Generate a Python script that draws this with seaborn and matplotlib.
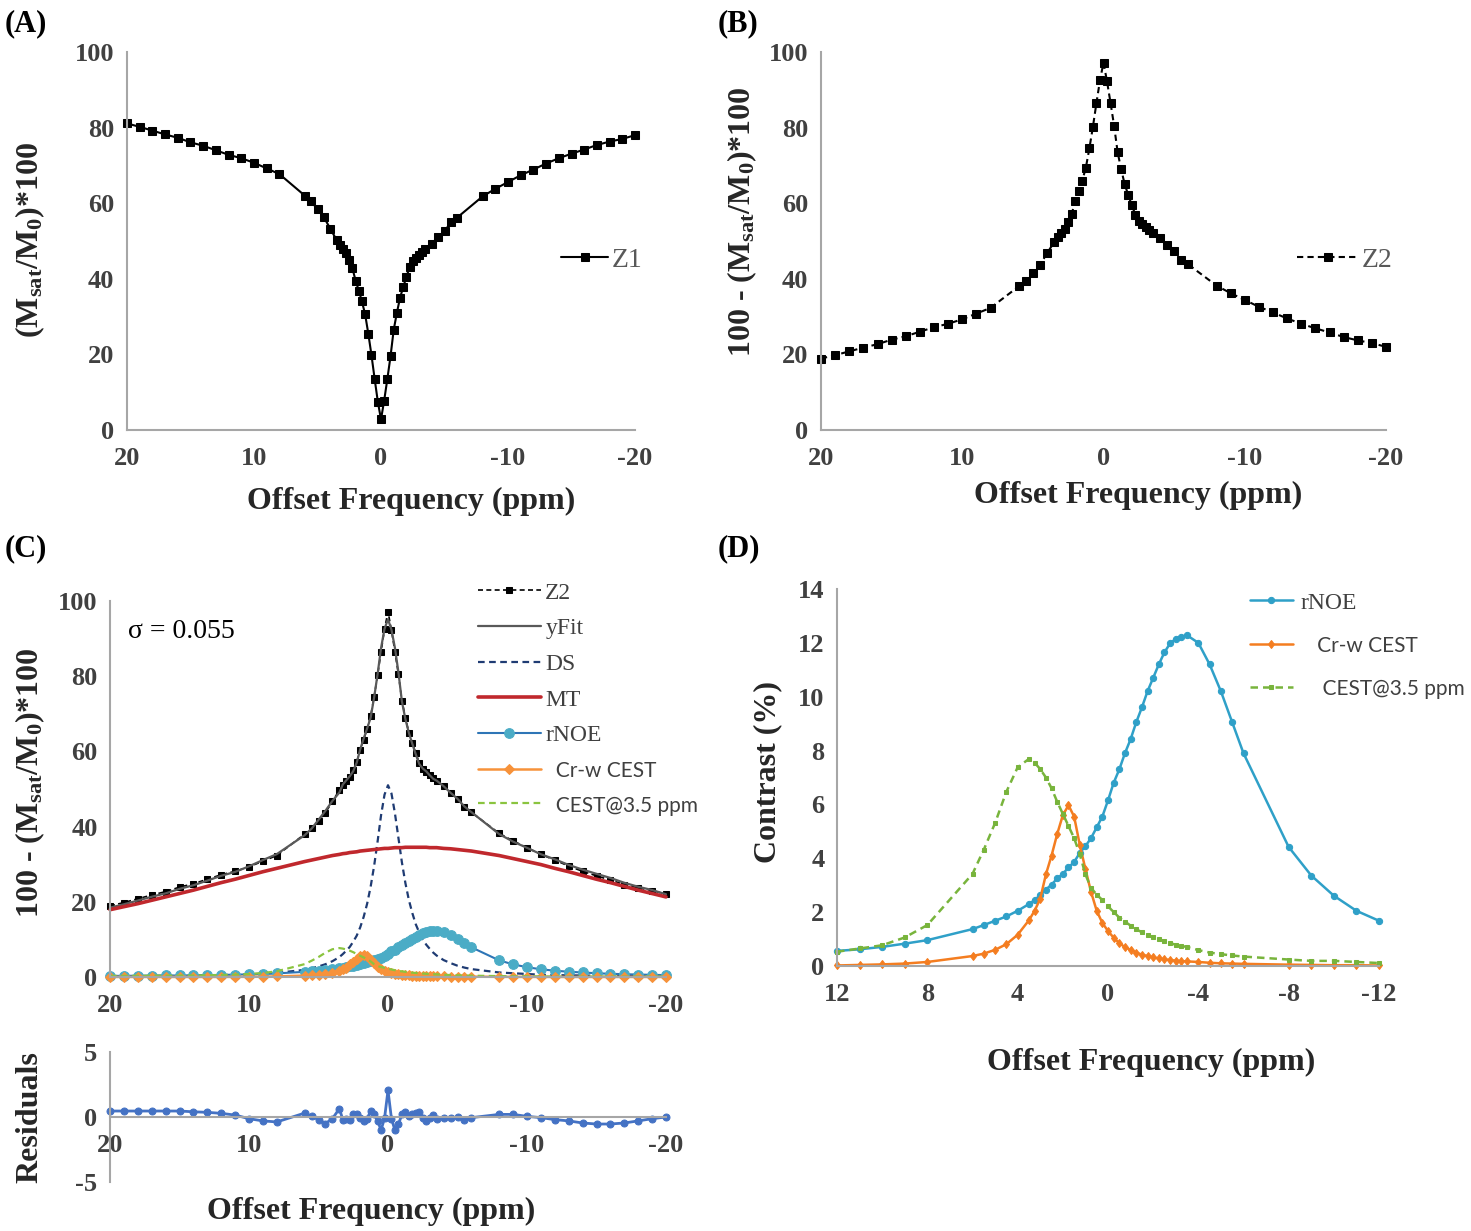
import matplotlib
matplotlib.use('Agg')
import matplotlib.pyplot as plt
import pandas as pd
import seaborn as sns

# offsets (ppm) of the Z-spectrum
offsets = [20, 19, 18, 17, 16, 15, 14, 13, 12, 11, 10, 9, 8,
           6, 5.5, 5, 4.5, 4,
           3.5, 3.25, 3, 2.75, 2.5, 2.25, 2, 1.75, 1.5, 1.25, 1, 0.75, 0.5, 0.25, 0,
           -0.25, -0.5, -0.75, -1, -1.25, -1.5, -1.75, -2, -2.25, -2.5, -2.75, -3, -3.25, -3.5,
           -4, -4.5, -5, -5.5, -6,
           -8, -9, -10, -11, -12, -13, -14, -15, -16, -17, -18, -19, -20]

# (Msat/M0)*100
z1 = [81.1, 80.2, 79.2, 78.2, 77.3, 76.1, 75.2, 74.0, 72.8, 71.9, 70.7, 69.2, 67.7,
      62.0, 60.5, 58.4, 56.3, 53.3,
      50.3, 49.0, 47.8, 46.8, 45.0, 42.8, 39.5, 36.9, 34.0, 30.6, 25.5, 19.8, 13.5, 7.5, 2.8,
      7.8, 13.5, 19.5, 26.5, 31.0, 35.0, 37.8, 40.5, 43.0, 44.6, 45.6, 46.4, 47.1, 47.9,
      49.3, 51.1, 52.6, 54.9, 56.2,
      61.8, 63.8, 65.6, 67.4, 68.9, 70.5, 71.9, 73.1, 74.2, 75.4, 76.3, 77.0, 78.0]

ds = [0.2, 0.2, 0.2, 0.3, 0.3, 0.3, 0.4, 0.4, 0.5, 0.6, 0.7, 0.9, 1.1,
      1.9, 2.3, 2.8, 3.4, 4.2,
      5.3, 6.1, 7.0, 8.0, 9.4, 11.0, 13.2, 16.0, 19.5, 24.0, 29.5, 36.0, 43.0, 48.5, 51.0,
      48.8, 43.5, 37.0, 30.5, 25.0, 20.5, 17.0, 14.0, 11.8, 10.0, 8.6, 7.5, 6.5, 5.7,
      4.5, 3.7, 3.0, 2.5, 2.1,
      1.2, 1.0, 0.8, 0.6, 0.5, 0.45, 0.4, 0.35, 0.3, 0.3, 0.25, 0.2, 0.2]

mt = [17.9, 18.7, 19.5, 20.4, 21.3, 22.2, 23.1, 24.1, 25.1, 26.0, 27.0, 28.0, 28.9,
      30.7, 31.1, 31.5, 31.9, 32.3,
      32.6, 32.8, 32.9, 33.1, 33.2, 33.3, 33.5, 33.6, 33.7, 33.8, 33.9, 34.0, 34.1, 34.2, 34.2,
      34.3, 34.4, 34.4, 34.4, 34.5, 34.5, 34.5, 34.5, 34.5, 34.5, 34.5, 34.4, 34.4, 34.4,
      34.2, 34.1, 33.9, 33.7, 33.5,
      32.3, 31.5, 30.7, 29.9, 28.9, 28.0, 27.0, 26.0, 25.1, 24.1, 23.1, 22.2, 21.3]

rnoe = [0.3, 0.3, 0.35, 0.35, 0.4, 0.4, 0.45, 0.5, 0.56, 0.62, 0.71, 0.83, 0.96,
        1.37, 1.52, 1.68, 1.84, 2.05,
        2.30, 2.45, 2.63, 2.84, 3.02, 3.25, 3.42, 3.66, 3.86, 4.2, 4.45, 4.75, 5.15, 5.55, 6.15,
        6.8, 7.3, 7.9, 8.42, 9.05, 9.6, 10.2, 10.7, 11.2, 11.65, 11.98, 12.15, 12.22, 12.28,
        12.0, 11.2, 10.2, 9.05, 7.9,
        4.42, 3.36, 2.61, 2.05, 1.68, 1.4, 1.2, 1.0, 0.85, 0.75, 0.65, 0.58, 0.5]

crw = [0.02, 0.02, 0.02, 0.02, 0.02, 0.02, 0.02, 0.02, 0.02, 0.04, 0.06, 0.09, 0.15,
       0.37, 0.46, 0.6, 0.81, 1.16,
       1.70, 2.05, 2.5, 3.4, 4.1, 4.9, 5.6, 5.97, 5.55, 4.5, 3.6, 2.75, 2.05, 1.6, 1.3,
       1.05, 0.85, 0.7, 0.6, 0.5, 0.42, 0.37, 0.32, 0.28, 0.25, 0.22, 0.2, 0.18, 0.17,
       0.15, 0.12, 0.1, 0.09, 0.08,
       0.05, 0.04, 0.03, 0.03, 0.02, 0.02, 0.02, 0.02, 0.02, 0.02, 0.02, 0.02, 0.02]

cest35 = [0.3, 0.3, 0.32, 0.34, 0.36, 0.38, 0.4, 0.45, 0.53, 0.65, 0.77, 1.06, 1.52,
          3.42, 4.32, 5.31, 6.47, 7.38,
          7.69, 7.55, 7.31, 7.0, 6.6, 6.1, 5.65, 5.2, 4.75, 4.15, 3.4, 2.9, 2.65, 2.45, 2.22,
          2.0, 1.8, 1.65, 1.5, 1.37, 1.25, 1.15, 1.07, 1.0, 0.92, 0.85, 0.79, 0.74, 0.71,
          0.59, 0.5, 0.44, 0.39, 0.35,
          0.24, 0.19, 0.19, 0.15, 0.11, 0.1, 0.1, 0.1, 0.1, 0.1, 0.1, 0.1, 0.1]

resid = [0.46, 0.46, 0.46, 0.46, 0.46, 0.46, 0.4, 0.36, 0.28, 0.15, -0.13, -0.3, -0.38,
         0.3, 0.05, -0.2, -0.5, -0.13,
         0.64, -0.2, -0.13, -0.2, 0.25, 0.2, -0.05, -0.3, -0.13, 0.46, 0.2, -0.3, -1.0, -0.1, 2.05,
         -0.15, -1.0, -0.56, 0.2, 0.38, 0.05, 0.2, 0.3, 0.38, -0.05, -0.3, -0.05, 0.18, -0.13,
         -0.05, -0.1, 0.0, -0.25, -0.05,
         0.2, 0.2, 0.05, -0.05, -0.2, -0.3, -0.46, -0.54, -0.54, -0.46, -0.3, -0.13, 0.0]

df = pd.DataFrame({'offset': offsets, 'z1': z1, 'ds': ds, 'mt': mt, 'rnoe': rnoe,
                   'crw': crw, 'cest35': cest35, 'resid': resid})
df['z2'] = 100 - df['z1']
df['yfit'] = df['z2'] - df['resid']
dfd = df[df['offset'].abs() <= 12]

sns.set_theme(style='white')
plt.rcParams['font.family'] = ['Liberation Serif', 'DejaVu Serif']
plt.rcParams['font.weight'] = 'bold'
plt.rcParams['axes.labelweight'] = 'bold'
plt.rcParams['axes.unicode_minus'] = False
plt.rcParams['mathtext.fontset'] = 'custom'
plt.rcParams['mathtext.rm'] = 'Liberation Serif:bold'
plt.rcParams['mathtext.it'] = 'Liberation Serif:bold:italic'
plt.rcParams['mathtext.bf'] = 'Liberation Serif:bold'

W, H = 1471, 1231
fig = plt.figure(figsize=(W / 100, H / 100), dpi=100)


def add_ax(x0, x1, ytop, ybot):
    return fig.add_axes([x0 / W, 1 - ybot / H, (x1 - x0) / W, (ybot - ytop) / H])


axA = add_ax(127, 635, 52, 430)
axB = add_ax(821, 1386, 52, 430)
axC = add_ax(110, 666, 601, 977)
axR = add_ax(110, 666, 1052, 1182)
axD = add_ax(837, 1379, 589, 966)

GRAY = '#a6a6a6'
TICKC = '#404040'
LABC = '#262626'
LEG_SERIF = {'family': 'Liberation Serif', 'weight': 'normal', 'size': 17}
SANS = ['Lato', 'DejaVu Sans']


def style(ax, xlim, ylim, xticks, yticks):
    ax.set_xlim(*xlim)
    ax.set_ylim(*ylim)
    ax.set_xticks(xticks)
    ax.set_yticks(yticks)
    ax.spines[['top', 'right']].set_visible(False)
    for s in ['left', 'bottom']:
        ax.spines[s].set_color(GRAY)
        ax.spines[s].set_linewidth(1.5)
    ax.tick_params(axis='y', direction='in', length=5, width=1.2, color=GRAY,
                   labelsize=19, labelcolor=TICKC, pad=9)
    ax.tick_params(axis='x', length=0, labelsize=19, labelcolor=TICKC, pad=12)


def labels(ax, xl, yl, xpos, ypos):
    ax.set_xlabel(xl, fontsize=23, color=LABC, fontweight='bold')
    ax.set_ylabel(yl, fontsize=23, color=LABC, fontweight='bold')
    ax.xaxis.set_label_coords(*xpos)
    ax.yaxis.set_label_coords(*ypos)
    ax.xaxis.label.set_va('center')
    ax.yaxis.label.set_va('center')


common = dict(errorbar=None, sort=False, clip_on=False)

# (A)
sns.lineplot(data=df, x='offset', y='z1', ax=axA, color='black', linewidth=1.5,
             marker='s', markersize=5.5, markeredgecolor='black', markerfacecolor='black',
             label='Z1', **common)
style(axA, (20, -20), (0, 100), [20, 10, 0, -10, -20], range(0, 101, 20))
labels(axA, 'Offset Frequency (ppm)', r'(M$_{\rm sat}$/M$_{\rm 0}$)*100', (0.559, -0.19), (-0.191, 0.503))
axA.legend(loc='center left', bbox_to_anchor=(561 / W, 1 - 260 / H), bbox_transform=fig.transFigure,
           frameon=False, handlelength=1.7, handletextpad=0.12, borderpad=0, borderaxespad=0,
           prop=dict(LEG_SERIF, size=20), labelcolor='#595959')

# (B)
sns.lineplot(data=df, x='offset', y='z2', ax=axB, color='black', linewidth=1.5,
             linestyle=(0, (3, 2)), marker='s', markersize=5.5, markeredgecolor='black',
             markerfacecolor='black', label='Z2', **common)
style(axB, (20, -20), (0, 100), [20, 10, 0, -10, -20], range(0, 101, 20))
labels(axB, 'Offset Frequency (ppm)', r'100 - (M$_{\rm sat}$/M$_{\rm 0}$)*100', (0.561, -0.172), (-0.140, 0.55))
axB.legend(loc='center left', bbox_to_anchor=(1297 / W, 1 - 260 / H), bbox_transform=fig.transFigure,
           frameon=False, handlelength=2.2, handletextpad=0.12, borderpad=0, borderaxespad=0,
           prop=dict(LEG_SERIF, size=20), labelcolor='#595959')

# (C)
sns.lineplot(data=df, x='offset', y='z2', ax=axC, color='black', linewidth=1.2,
             linestyle=(0, (3, 2)), marker='s', markersize=5, markeredgecolor='black',
             markerfacecolor='black', label='Z2', **common)
sns.lineplot(data=df, x='offset', y='yfit', ax=axC, color='#595959', linewidth=1.6,
             label='yFit', **common)
sns.lineplot(data=df, x='offset', y='ds', ax=axC, color='#1f3b73', linewidth=1.6,
             linestyle=(0, (3, 2)), label='DS', **common)
sns.lineplot(data=df, x='offset', y='mt', ax=axC, color='#c0282d', linewidth=2.6,
             label='MT', **common)
sns.lineplot(data=df, x='offset', y='rnoe', ax=axC, color='#2e75b6', linewidth=1.5,
             marker='o', markersize=7, markeredgecolor='#4bacc6', markerfacecolor='#4bacc6',
             label='rNOE', **common)
sns.lineplot(data=df, x='offset', y='crw', ax=axC, color='#f7923a', linewidth=1.8,
             marker='D', markersize=5, markeredgecolor='#f7923a', markerfacecolor='#f7923a',
             label='  Cr-w CEST', **common)
sns.lineplot(data=df, x='offset', y='cest35', ax=axC, color='#8ac43f', linewidth=1.6,
             linestyle=(0, (3, 2)), label='  CEST@3.5 ppm', **common)
style(axC, (20, -20), (0, 100), [20, 10, 0, -10, -20], range(0, 101, 20))
axC.set_xlabel('')
axC.set_ylabel(r'100 - (M$_{\rm sat}$/M$_{\rm 0}$)*100', fontsize=23, color=LABC, fontweight='bold')
axC.yaxis.set_label_coords(-0.144, 0.516)
axC.yaxis.label.set_va('center')
legC = axC.legend(loc='upper left', bbox_to_anchor=(478 / W, 1 - 582 / H), bbox_transform=fig.transFigure,
                  frameon=False, handlelength=2.65, handletextpad=0.2, borderpad=0, borderaxespad=0,
                  labelspacing=0.6, prop=LEG_SERIF, labelcolor='#404040')
for t in legC.get_texts()[5:]:
    t.set_fontfamily(SANS)
    t.set_fontsize(15)
fig.text(128 / W, 1 - 632 / H, 'σ = 0.055', fontsize=20, fontweight='normal', va='center', color='black')

# residuals
sns.lineplot(data=df, x='offset', y='resid', ax=axR, color='#4472c4', linewidth=2,
             marker='o', markersize=5, markeredgecolor='#4472c4', markerfacecolor='#4472c4',
             **common)
style(axR, (20, -20), (-5, 5), [20, 10, 0, -10, -20], [-5, 0, 5])
axR.spines['bottom'].set_position(('data', 0))
labels(axR, 'Offset Frequency (ppm)', 'Residuals', (0.469, -0.223), (-0.144, 0.5))
if axR.get_legend():
    axR.get_legend().remove()

# (D)
sns.lineplot(data=dfd, x='offset', y='rnoe', ax=axD, color='#2fa0c8', linewidth=1.8,
             marker='o', markersize=4.5, markeredgecolor='#2fa0c8', markerfacecolor='#2fa0c8',
             label='rNOE', **common)
sns.lineplot(data=dfd, x='offset', y='crw', ax=axD, color='#f47d20', linewidth=1.8,
             marker='d', markersize=4.5, markeredgecolor='#f47d20', markerfacecolor='#f47d20',
             label='   Cr-w CEST', **common)
sns.lineplot(data=dfd, x='offset', y='cest35', ax=axD, color='#78b43c', linewidth=1.8,
             linestyle=(0, (3, 2)), marker='s', markersize=3.5, markeredgecolor='#78b43c',
             markerfacecolor='#78b43c', label='    CEST@3.5 ppm', **common)
style(axD, (12, -12), (0, 14), [12, 8, 4, 0, -4, -8, -12], range(0, 15, 2))
labels(axD, 'Offset Frequency (ppm)', 'Contrast (%)', (0.579, -0.255), (-0.127, 0.515))
legD = axD.legend(loc='upper left', bbox_to_anchor=(1250 / W, 1 - 592 / H), bbox_transform=fig.transFigure,
                  frameon=False, handlelength=1.8, handletextpad=0.35, borderpad=0, borderaxespad=0,
                  labelspacing=0.95, prop=LEG_SERIF, labelcolor='#404040')
for t in legD.get_texts()[1:]:
    t.set_fontfamily(SANS)
    t.set_fontsize(15)

for lab, x, y in [('(A)', 5, 24), ('(B)', 718, 24), ('(C)', 5, 549), ('(D)', 718, 549)]:
    fig.text(x / W, 1 - y / H, lab, fontsize=22, fontweight='bold', va='center', ha='left', color='black')

fig.savefig('out.png', dpi=100)
